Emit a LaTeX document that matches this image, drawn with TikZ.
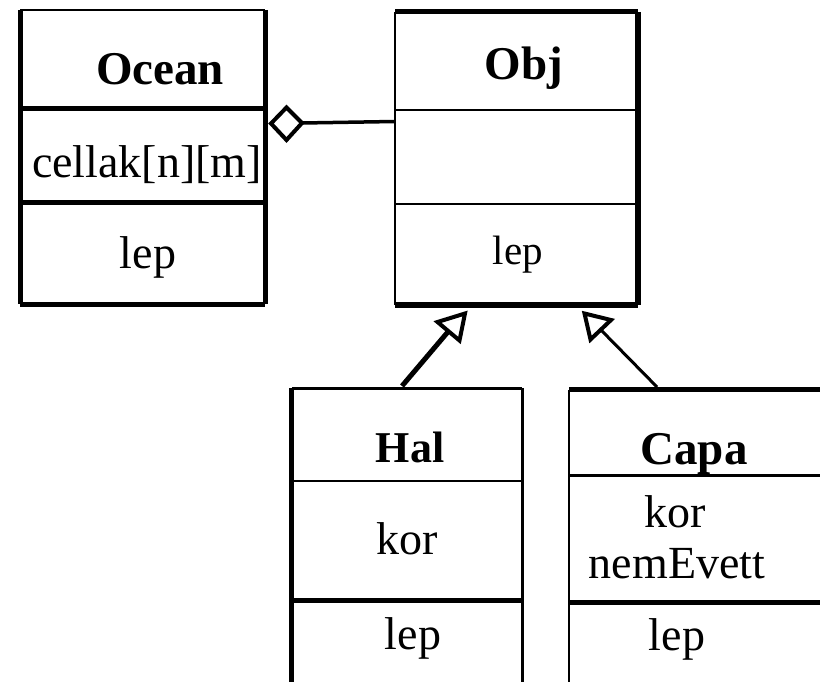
\documentclass[tikz,border=0pt]{standalone}
\usepackage{fontspec}
\setmainfont{Liberation Serif}
\begin{document}
\begin{tikzpicture}[x=1pt,y=-1pt,
  box/.style={rectangle,draw=none,inner sep=0pt,outer sep=0pt},
  thk/.style={line width=5pt,line cap=square},
  thn/.style={line width=2.8pt,line cap=square},
  lbl/.style={inner sep=0pt,anchor=base,font=\fontsize{46}{50}\selectfont},
  blbl/.style={inner sep=0pt,anchor=base,font=\fontsize{47}{50}\selectfont\bfseries},
  headshape/.style={draw,fill=white,line width=4pt,line join=miter}]
\useasboundingbox (0,0) rectangle (820,682);
\clip (0,0) rectangle (820,682);
\fill[white] (0,0) rectangle (820,682);

% boxes
\node[box,minimum width=245pt,minimum height=294pt] (ocean) at (142.5,157) {};
\node[box,minimum width=243pt,minimum height=293pt] (obj) at (516.5,158.5) {};
\node[box,minimum width=230.5pt,minimum height=372pt] (hal) at (407,574.3) {};
\node[box,minimum width=271pt,minimum height=370pt] (capa) at (704.5,574.7) {};

% Ocean borders
\draw[thn] (ocean.north west) -- (ocean.north east);
\draw[thk] (ocean.north west) -- (ocean.south west);
\draw[thk] (ocean.north east) -- (ocean.south east);
\draw[thk] (ocean.south west) -- (ocean.south east);
\draw[thk] (ocean.west |- 0,109) -- (ocean.east |- 0,109);
\draw[thk] (ocean.west |- 0,203) -- (ocean.east |- 0,203);

% Obj borders
\draw[thk] (obj.north west) -- (obj.north east);
\draw[thn] (obj.north west) -- (obj.south west);
\draw[line width=5.5pt,line cap=square] (obj.north east) -- (obj.south east);
\draw[line width=5.5pt,line cap=square] (obj.south west) -- (obj.south east);
\draw[thn] (obj.west |- 0,110) -- (obj.east |- 0,110);
\draw[thn] (obj.west |- 0,204) -- (obj.east |- 0,204);

% Hal borders
\draw[thn] (hal.north west) -- (hal.north east);
\draw[thk] (hal.north west) -- (hal.south west);
\draw[thn] (hal.north east) -- (hal.south east);
\draw[thn] (hal.west |- 0,481) -- (hal.east |- 0,481);
\draw[thk] (hal.west |- 0,600) -- (hal.east |- 0,600);

% Capa borders
\draw[thk] (capa.north west) -- (capa.north east);
\draw[thn] (capa.north west) -- (capa.south west);
\draw[thn] (capa.west |- 0,475.5) -- (capa.east |- 0,475.5);
\draw[thk] (capa.west |- 0,602) -- (capa.east |- 0,602);

% texts
\node[blbl] (toc) at (160,85) {Ocean};
\node[lbl] (tcel) at (147,178) {cellak[n][m]};
\node[lbl] (tlep1) at (148,269) {lep};
\node[blbl] (tobj) at (524,80) {Obj};
\node[lbl,font=\fontsize{41}{45}\selectfont] (tlep2) at (518,265) {lep};
\node[blbl,font=\fontsize{44}{48}\selectfont\bfseries] (thal) at (410,462) {Hal};
\node[lbl] (tkor1) at (407,554) {kor};
\node[lbl] (tlep3) at (413,649) {lep};
\node[blbl] (tcapa) at (694,464) {Capa};
\node[lbl] (tkor2) at (675,527) {kor};
\node[lbl] (tnem) at (677,578) {nemEvett};
\node[lbl] (tlep4) at (677,650) {lep};

% aggregation: Obj -- diamond at Ocean
\coordinate (aggS) at (obj.west |- 0,121.5);
\coordinate (dR) at (302,123);
\coordinate (dT) at (286.5,107.5);
\coordinate (dL) at (271,123.5);
\coordinate (dB) at (286.5,140);
\draw[line width=3.5pt] (aggS) -- (dR);
\draw[headshape] (dR) -- (dT) -- (dL) -- (dB) -- cycle;

% generalization Hal -> Obj
\coordinate (h1) at (402,386);
\coordinate (hT) at (465,313.5);
\coordinate (hA) at (437.5,322);
\coordinate (hB) at (459.5,340.5);
\coordinate (hM) at (448.5,331.2);
\draw[line width=5pt] (h1) -- (hM);
\draw[headshape] (hT) -- (hA) -- (hB) -- cycle;

% generalization Capa -> Obj
\coordinate (c1) at (657,387);
\coordinate (cT) at (584.5,313.5);
\coordinate (cA) at (611,320);
\coordinate (cB) at (590.5,339.5);
\coordinate (cM) at (600.7,329.7);
\draw[line width=3pt] (c1) -- (cM);
\draw[headshape] (cT) -- (cA) -- (cB) -- cycle;
\end{tikzpicture}
\end{document}
